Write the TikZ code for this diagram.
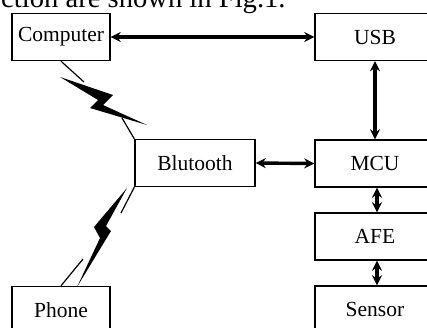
\documentclass[tikz,border=0pt]{standalone}
\usepackage{fontspec}
\setmainfont{Liberation Serif}
\usetikzlibrary{arrows.meta}

\begin{document}
\begin{tikzpicture}[x=0.5pt,y=-0.5pt,
  box/.style={draw,line width=0.7pt,inner sep=0pt,minimum height=23.5pt,
    font=\fontsize{10.75}{13}\selectfont},
  smallbox/.style={box,minimum width=49pt},
  widebox/.style={box,minimum width=60pt},
  link/.style={line width=1.7pt,{Stealth[length=5pt,width=5pt]}-{Stealth[length=5pt,width=5pt]}},
  wire/.style={line width=0.6pt}]
\useasboundingbox (0,0) rectangle (427,327);
% cut line of the page text
\node[anchor=base east,inner sep=0pt,font=\fontsize{14.3}{17}\selectfont] (caption) at (286,7) {ction are shown in Fig.1.};
% blocks
\node[smallbox] (computer) at (61,37) {Computer};
\node[widebox] (usb) at (375,37) {USB};
\node[widebox] (bt) at (195,163) {Blutooth};
\node[widebox] (mcu) at (375,163.5) {MCU};
\node[widebox] (afe) at (375,236.5) {AFE};
\node[widebox] (sensor) at (375,309.5) {Sensor};
\node[smallbox] (phone) at (61,310) {Phone};
% wired links
\draw[link] (computer.east) -- (usb.west);
\draw[link] (usb.south) -- (mcu.north);
\draw[link] (bt.east) -- (mcu.west);
\draw[link] ([xshift=1pt]mcu.south) -- ([xshift=1pt]afe.north);
\draw[link] ([xshift=1pt]afe.south) -- ([xshift=1pt]sensor.north);
% wireless links
\coordinate (w1) at (84,82);
\coordinate (w2) at (122,118);
\coordinate (w3) at (121,213);
\coordinate (w4) at (83,259);
\draw[wire] (computer.south) -- (w1);
\draw[wire] (w2) -- (bt.north west);
\draw[wire] (bt.south west) -- (w3);
\draw[wire] (w4) -- (phone.north);
\fill (60,77) -- (113,95) -- (103,105) -- (147,125) -- (90,108) -- (98,100) -- cycle;
\fill (127,188) -- (94,227) -- (100,238) -- (77,287) -- (111,231) -- (106,226) -- cycle;
\end{tikzpicture}
\end{document}
